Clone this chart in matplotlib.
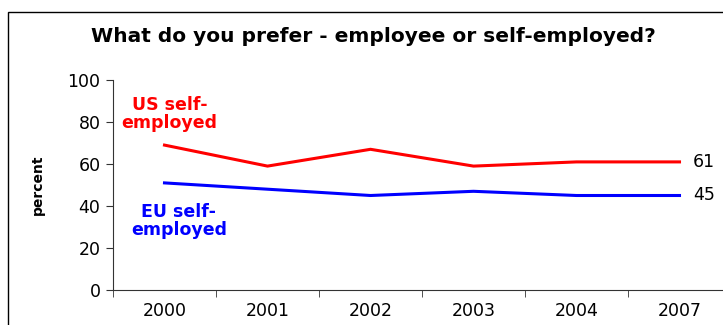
import matplotlib.pyplot as plt
from matplotlib.patches import Rectangle

plt.rcParams['font.family'] = ['DejaVu Sans']

years = ['2000', '2001', '2002', '2003', '2004', '2007']
us_self = [69, 59, 67, 59, 61, 61]
eu_self = [51, 48, 45, 47, 45, 45]

fig = plt.figure(figsize=(7.23, 3.25), dpi=100)

# outer frame of the chart area (runs off the right and bottom edges)
fig.patches.append(Rectangle((8 / 723, -0.1), 1.0, (325 - 12) / 325 + 0.1,
                             transform=fig.transFigure, fill=False,
                             edgecolor='black', linewidth=1.0))

fig.text(373 / 723, 1 - 37 / 325, 'What do you prefer - employee or self-employed?',
         ha='center', va='center', fontsize=14.5, fontweight='bold')

ax = fig.add_axes([113 / 723, 35 / 325, 618 / 723, 210 / 325])
x = list(range(len(years)))
ax.plot(x, us_self, color='#ff0000', linewidth=2.2)
ax.plot(x, eu_self, color='#0000ff', linewidth=2.2)

ax.set_xlim(-0.5, len(years) - 0.5)
ax.set_ylim(0, 100)
ax.set_yticks(range(0, 101, 20))
ax.set_xticks(x)
ax.set_xticklabels(years, fontsize=12.5)
ax.set_xticks([i + 0.5 for i in range(-1, len(years))], minor=True)
ax.tick_params(axis='x', which='major', length=0, pad=9)
ax.tick_params(axis='x', which='minor', length=5, direction='out', color='#333333')
ax.tick_params(axis='y', length=5, direction='out', labelsize=12.5, pad=4, color='#333333')

for s in ['top', 'right']:
    ax.spines[s].set_visible(False)
for s in ['left', 'bottom']:
    ax.spines[s].set_color('#333333')

ax.set_ylabel('percent', fontsize=10, fontweight='bold', labelpad=16)

ax.text(0.05, 84, 'US self-\nemployed', color='#ff0000', fontsize=12.5,
        fontweight='bold', ha='center', va='center', linespacing=1.0)
ax.text(0.14, 33, 'EU self-\nemployed', color='#0000ff', fontsize=12.5,
        fontweight='bold', ha='center', va='center', linespacing=1.0)

ax.text(len(years) - 1 + 0.13, us_self[-1], str(us_self[-1]), fontsize=12.5,
        ha='left', va='center')
ax.text(len(years) - 1 + 0.13, eu_self[-1], str(eu_self[-1]), fontsize=12.5,
        ha='left', va='center')

fig.savefig('out.png', dpi=100)
